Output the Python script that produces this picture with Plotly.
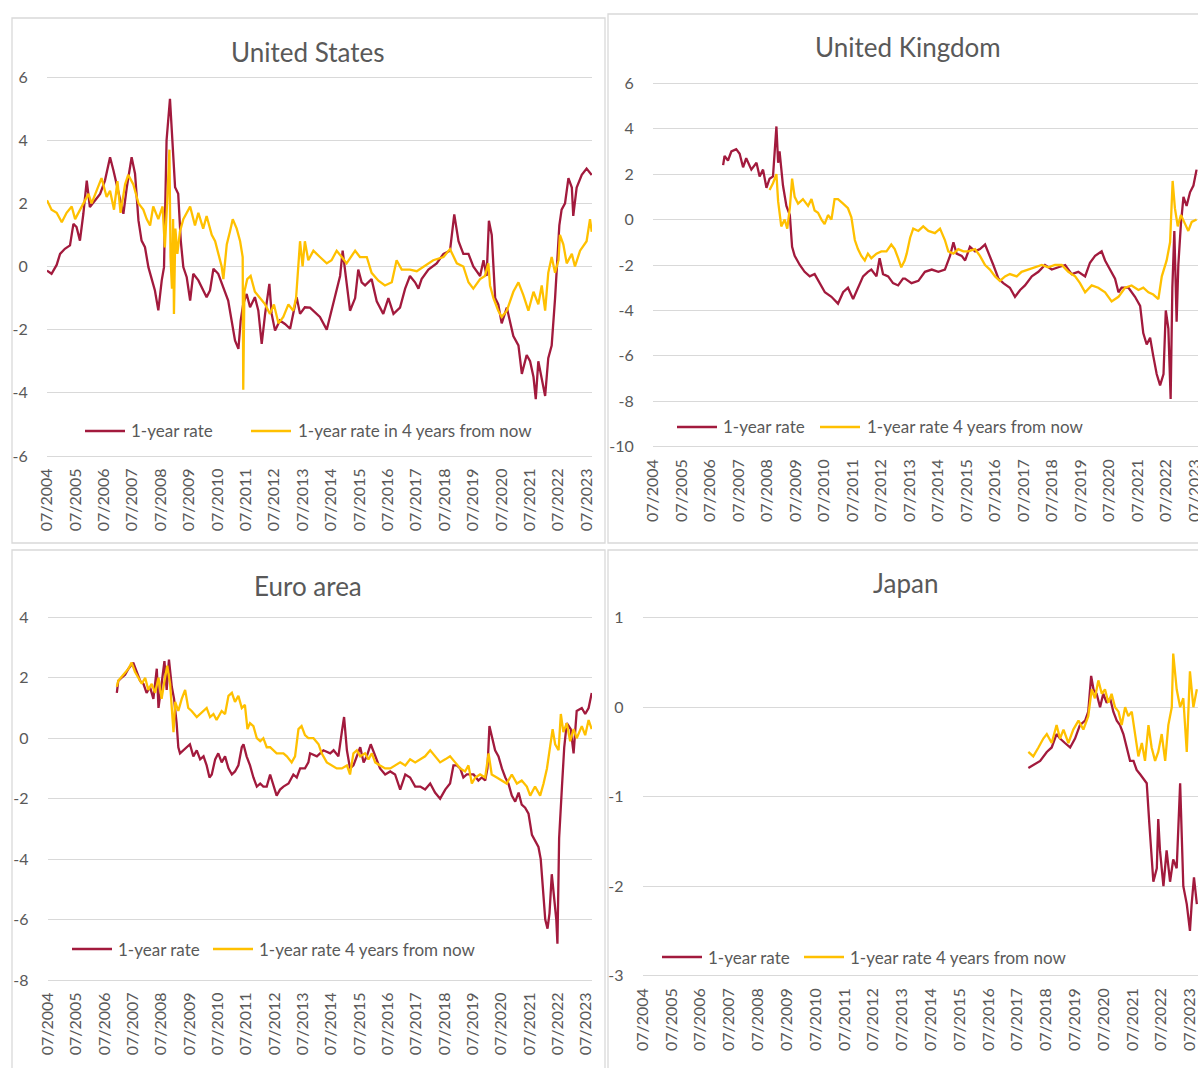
import plotly.graph_objects as go

W, H = 1198, 1068
RED = "#A21A3D"
GOLD = "#FFC000"
GRID = "#D9D9D9"
TXT = "#595959"
FONT = "Lato, 'Open Sans', sans-serif"

# ---------------- tick labels (mid-year positions, decimal years) ----------------
month_labels = ["07/2004", "07/2005", "07/2006", "07/2007", "07/2008", "07/2009", "07/2010",
                "07/2011", "07/2012", "07/2013", "07/2014", "07/2015", "07/2016", "07/2017",
                "07/2018", "07/2019", "07/2020", "07/2021", "07/2022", "07/2023"]
label_years = [2004.5, 2005.5, 2006.5, 2007.5, 2008.5, 2009.5, 2010.5, 2011.5, 2012.5, 2013.5,
               2014.5, 2015.5, 2016.5, 2017.5, 2018.5, 2019.5, 2020.5, 2021.5, 2022.5, 2023.5]

us_yticks = [-6, -4, -2, 0, 2, 4, 6]
uk_yticks = [-10, -8, -6, -4, -2, 0, 2, 4, 6]
ea_yticks = [-8, -6, -4, -2, 0, 2, 4]
jp_yticks = [-3, -2, -1, 0, 1]

series_names = ["1-year rate", "1-year rate in 4 years from now", "1-year rate 4 years from now"]
panel_titles = ["United States", "United Kingdom", "Euro area", "Japan"]

# ---------------- United States ----------------
us_rate_t = [2004.50, 2004.66, 2004.84, 2004.96, 2005.13, 2005.31, 2005.43, 2005.54, 2005.66, 2005.78,
             2005.90, 2006.01, 2006.19, 2006.37, 2006.54, 2006.72, 2006.84, 2006.95, 2007.13, 2007.19,
             2007.31, 2007.48, 2007.60, 2007.72, 2007.83, 2007.95, 2008.07, 2008.19, 2008.30, 2008.42,
             2008.54, 2008.62, 2008.71, 2008.83, 2008.92, 2009.01, 2009.12, 2009.21, 2009.30, 2009.42,
             2009.54, 2009.65, 2009.83, 2010.00, 2010.12, 2010.24, 2010.36, 2010.53, 2010.71, 2010.88,
             2011.00, 2011.12, 2011.24, 2011.32, 2011.41, 2011.53, 2011.65, 2011.82, 2011.94, 2012.06,
             2012.18, 2012.33, 2012.41, 2012.53, 2012.70, 2012.88, 2013.06, 2013.17, 2013.29, 2013.41,
             2013.58, 2013.76,
             2014.11, 2014.35, 2014.58, 2014.70, 2014.82, 2014.91, 2015.05, 2015.17, 2015.35, 2015.46,
             2015.58, 2015.70, 2015.93, 2016.11, 2016.34, 2016.52, 2016.70, 2016.93, 2017.11, 2017.28,
             2017.46, 2017.58, 2017.69, 2017.93, 2018.22, 2018.46, 2018.69, 2018.84, 2018.99, 2019.16,
             2019.34, 2019.51, 2019.75, 2019.87, 2019.98, 2020.06, 2020.16, 2020.28, 2020.39, 2020.51,
             2020.69, 2020.80, 2020.92, 2021.10, 2021.22, 2021.39, 2021.51, 2021.63, 2021.71, 2021.80,
             2021.92, 2022.04, 2022.15, 2022.27, 2022.39, 2022.45, 2022.54, 2022.62, 2022.74, 2022.86,
             2022.98, 2023.03, 2023.15, 2023.33, 2023.50, 2023.68]
us_rate_v = [-0.13, -0.23, 0.05, 0.4, 0.56, 0.67, 1.35, 1.25, 0.82, 1.67,
             2.72, 1.88, 2.09, 2.3, 2.72, 3.46, 3.04, 2.62, 1.88, 1.67,
             2.51, 3.46, 2.94, 1.46, 0.82, 0.61, -0.02, -0.44, -0.76, -1.39,
             -0.44, -0.02, 3.99, 5.31, 3.99, 2.51, 2.3, 0.82, -0.02, -0.34,
             -1.08, -0.23, -0.44, -0.76, -0.97, -0.76, -0.07, -0.23, -0.65, -1.08,
             -1.71, -2.34, -2.61, -1.71, -1.18, -0.87, -1.29, -0.97, -1.39, -2.45,
             -1.5, -0.55, -1.5, -2.03, -1.71, -1.82, -1.97, -1.5, -0.97, -1.5,
             -1.29, -1.3,
             -1.6, -2.0, -1.2, -0.8, -0.3, 0.5, -0.6, -1.4, -1.0, -0.1,
             -0.5, -0.6, -0.4, -1.1, -1.5, -1.0, -1.5, -1.3, -0.7, -0.3,
             -0.5, -0.7, -0.4, -0.1, 0.1, 0.4, 0.5, 1.65, 0.8, 0.4,
             0.4, 0.0, -0.3, 0.2, -0.3, 1.45, 1.0, -1.0, -1.2, -1.8,
             -1.3, -1.7, -2.2, -2.5, -3.4, -2.8, -3.0, -3.5, -4.2, -3.0,
             -3.5, -4.1, -2.9, -2.5, -1.0, 0.0, 1.3, 1.8, 2.0, 2.8,
             2.5, 1.6, 2.5, 2.9, 3.1, 2.9]

us_fwd_t = [2004.50, 2004.66, 2004.84, 2005.02, 2005.19, 2005.37, 2005.49, 2005.66, 2005.78, 2005.96,
            2006.07, 2006.25, 2006.42, 2006.60, 2006.72, 2006.86, 2006.98, 2007.09, 2007.25, 2007.36,
            2007.54, 2007.72, 2007.89, 2008.01, 2008.13, 2008.24, 2008.42, 2008.57, 2008.65, 2008.74,
            2008.81, 2008.85, 2008.90, 2008.94, 2008.97, 2009.02, 2009.09, 2009.18, 2009.30, 2009.54,
            2009.71, 2009.83, 2010.00, 2010.12, 2010.30, 2010.42, 2010.53, 2010.65, 2010.71, 2010.83,
            2010.94, 2011.04, 2011.18, 2011.30, 2011.39, 2011.41, 2011.45, 2011.55, 2011.67, 2011.82,
            2012.00, 2012.18, 2012.35, 2012.49, 2012.65, 2012.82, 2013.00, 2013.17, 2013.27, 2013.35,
            2013.41, 2013.50, 2013.58, 2013.70,
            2013.88, 2014.11, 2014.35, 2014.52, 2014.70, 2014.88, 2015.05, 2015.35, 2015.52, 2015.76,
            2015.93, 2016.17, 2016.40, 2016.64, 2016.81, 2016.99, 2017.28, 2017.52, 2017.75, 2018.10,
            2018.46, 2018.69, 2018.93, 2019.16, 2019.34, 2019.51, 2019.75, 2019.92, 2020.04, 2020.10,
            2020.22, 2020.39, 2020.51, 2020.69, 2020.92, 2021.10, 2021.27, 2021.45, 2021.63, 2021.80,
            2021.92, 2022.04, 2022.15, 2022.27, 2022.39, 2022.51, 2022.56, 2022.68, 2022.80, 2022.98,
            2023.09, 2023.27, 2023.50, 2023.62, 2023.68]
us_fwd_v = [2.1, 1.8, 1.7, 1.4, 1.7, 1.9, 1.5, 1.8, 2.0, 2.3,
            2.0, 2.4, 2.8, 2.2, 2.4, 1.8, 2.7, 1.7, 2.6, 2.9,
            2.6, 2.0, 1.8, 1.5, 1.3, 1.9, 1.5, 1.9, 0.6, 2.2,
            3.7, 0.3, -0.7, 1.5, -1.5, 1.2, 0.4, 1.1, 1.5, 1.9,
            1.3, 1.7, 1.2, 1.6, 1.0, 0.8, 0.4, 0.0, -0.4, 0.7,
            1.1, 1.5, 1.2, 0.8, 0.3, -3.9, -0.8, -0.4, -0.3, -0.8,
            -1.0, -1.2, -1.5, -1.2, -1.8, -1.6, -1.2, -1.4, -1.0, 0.0,
            0.8, 0.0, 0.8, 0.2,
            0.5, 0.3, 0.1, 0.2, 0.5, 0.3, 0.1, 0.5, 0.3, 0.3,
            -0.2, -0.45, -0.6, -0.5, 0.2, -0.1, -0.1, -0.15, 0.0, 0.2,
            0.3, 0.55, 0.1, 0.0, -0.5, -0.7, -0.4, -0.3, 0.1, -0.6,
            -1.0, -1.4, -1.6, -1.4, -0.8, -0.5, -0.9, -1.4, -0.8, -1.2,
            -0.6, -1.4, -0.2, 0.3, -0.2, 0.2, 1.0, 0.7, 0.1, 0.4,
            0.0, 0.5, 0.8, 1.5, 1.1]

# ---------------- United Kingdom ----------------
uk_rate_t = [2006.96, 2007.01, 2007.13, 2007.25, 2007.42, 2007.54, 2007.66, 2007.77, 2007.95, 2008.13,
             2008.24, 2008.36, 2008.48, 2008.59, 2008.71, 2008.83, 2008.89, 2008.94, 2009.06, 2009.18,
             2009.30, 2009.38, 2009.47, 2009.65, 2009.82, 2010.00, 2010.17, 2010.35, 2010.53, 2010.76,
             2010.99, 2011.17, 2011.34, 2011.52, 2011.69, 2011.87, 2012.04, 2012.16, 2012.34, 2012.45,
             2012.57, 2012.75, 2012.92, 2013.10, 2013.27,
             2013.34, 2013.57, 2013.81, 2014.04, 2014.28, 2014.51, 2014.74, 2014.92, 2015.04, 2015.15,
             2015.33, 2015.45, 2015.62, 2015.80, 2015.97, 2016.15, 2016.32, 2016.44, 2016.62, 2016.79,
             2017.02, 2017.20, 2017.38, 2017.55, 2017.79, 2018.02, 2018.25, 2018.49, 2018.72, 2018.96,
             2019.19, 2019.42, 2019.66, 2019.83, 2020.01, 2020.24, 2020.36, 2020.53, 2020.71, 2020.83,
             2020.94, 2021.18, 2021.41, 2021.59, 2021.70, 2021.82, 2021.94, 2022.05, 2022.17, 2022.29,
             2022.41, 2022.49, 2022.58, 2022.66, 2022.72, 2022.79, 2022.87, 2022.93, 2023.02, 2023.11,
             2023.22, 2023.34, 2023.46, 2023.57]
uk_rate_v = [2.4, 2.8, 2.6, 3.0, 3.1, 2.9, 2.3, 2.7, 2.2, 2.5,
             1.9, 2.2, 1.4, 1.8, 1.9, 4.1, 2.5, 3.0, 1.5, 0.6,
             0.2, -1.2, -1.6, -2.0, -2.3, -2.5, -2.4, -2.8, -3.2, -3.4,
             -3.7, -3.2, -3.0, -3.5, -3.0, -2.5, -2.3, -2.2, -2.5, -1.7,
             -2.4, -2.5, -2.8, -2.9, -2.6,
             -2.6, -2.8, -2.7, -2.3, -2.2, -2.3, -2.2, -1.6, -1.0, -1.5,
             -1.6, -1.8, -1.2, -1.4, -1.3, -1.1, -1.6, -2.0, -2.6, -2.8,
             -3.0, -3.4, -3.1, -2.9, -2.5, -2.3, -2.0, -2.2, -2.1, -2.0,
             -2.4, -2.3, -2.5, -1.9, -1.6, -1.4, -1.8, -2.2, -2.6, -3.2,
             -3.0, -3.0, -3.4, -3.8, -5.0, -5.5, -5.2, -6.0, -6.8, -7.3,
             -6.8, -4.0, -4.8, -7.9, -3.0, -0.5, -4.5, -2.0, -0.2, 1.0,
             0.6, 1.2, 1.5, 2.2]

uk_fwd_t = [2008.59, 2008.71, 2008.83, 2008.89, 2009.00, 2009.12, 2009.21, 2009.30, 2009.38, 2009.47,
            2009.59, 2009.76, 2009.94, 2010.06, 2010.17, 2010.29, 2010.41, 2010.52, 2010.64, 2010.76,
            2010.87, 2010.99, 2011.17, 2011.34, 2011.46, 2011.58, 2011.69, 2011.81, 2011.93, 2012.04,
            2012.16, 2012.34, 2012.51, 2012.69, 2012.86, 2012.98, 2013.10, 2013.21, 2013.33,
            2013.40, 2013.52, 2013.63, 2013.81, 2013.98, 2014.16, 2014.39, 2014.57, 2014.74, 2014.86,
            2015.04, 2015.21, 2015.39, 2015.56, 2015.80, 2015.97, 2016.15, 2016.32, 2016.50, 2016.67,
            2016.85, 2017.02, 2017.26, 2017.43, 2017.67, 2017.90, 2018.14, 2018.37, 2018.60, 2018.84,
            2019.07, 2019.31, 2019.48, 2019.66, 2019.89, 2020.12, 2020.36, 2020.59, 2020.83, 2021.06,
            2021.29, 2021.53, 2021.70, 2021.88, 2022.05, 2022.23, 2022.35, 2022.52, 2022.64, 2022.73,
            2022.81, 2022.91, 2023.02, 2023.17, 2023.28, 2023.40, 2023.57]
uk_fwd_v = [1.3, 1.6, 2.0, 0.8, -0.3, 0.0, -0.4, 0.5, 1.8, 1.0,
            0.7, 0.9, 0.6, 0.9, 0.4, 0.3, 0.0, -0.2, 0.2, 0.0,
            0.9, 0.9, 0.7, 0.5, 0.1, -0.9, -1.3, -1.6, -1.8, -1.5,
            -1.7, -1.5, -1.4, -1.4, -1.1, -1.3, -1.7, -2.1, -1.8,
            -1.5, -0.8, -0.4, -0.5, -0.3, -0.5, -0.6, -0.4, -0.9, -1.4,
            -1.5, -1.3, -1.4, -1.4, -1.3, -1.6, -2.0, -2.2, -2.5, -2.7,
            -2.5, -2.4, -2.5, -2.3, -2.2, -2.1, -2.0, -2.1, -2.0, -2.0,
            -2.3, -2.5, -2.8, -3.2, -2.9, -3.0, -3.2, -3.6, -3.4, -3.0,
            -2.9, -3.1, -3.0, -3.2, -3.3, -3.5, -2.5, -1.8, -1.0, 1.7,
            0.5, -0.3, 0.2, -0.2, -0.5, -0.1, 0.0]

# ---------------- Euro area ----------------
ea_rate_t = [2006.94, 2006.99, 2007.11, 2007.23, 2007.35, 2007.52, 2007.64, 2007.76, 2007.88, 2007.99,
             2008.11, 2008.23, 2008.35, 2008.41, 2008.52, 2008.62, 2008.70, 2008.78, 2008.88, 2008.96,
             2009.05, 2009.11, 2009.17, 2009.29, 2009.41, 2009.52, 2009.64, 2009.76, 2009.88, 2010.00,
             2010.11, 2010.21, 2010.29, 2010.41, 2010.52, 2010.64, 2010.76, 2010.88, 2011.00, 2011.11,
             2011.23, 2011.35, 2011.41, 2011.52, 2011.64, 2011.76, 2011.88, 2012.00, 2012.11, 2012.23,
             2012.35, 2012.46, 2012.58, 2012.70, 2012.82, 2013.00, 2013.17, 2013.29, 2013.41, 2013.58,
             2013.70,
             2013.76, 2014.00, 2014.23, 2014.47, 2014.59, 2014.76, 2014.88, 2014.96, 2015.06, 2015.17,
             2015.29, 2015.41, 2015.53, 2015.65, 2015.76, 2015.90, 2016.06, 2016.23, 2016.41, 2016.59,
             2016.76, 2016.94, 2017.12, 2017.29, 2017.47, 2017.65, 2017.82, 2018.00, 2018.17, 2018.35,
             2018.53, 2018.70, 2018.82, 2018.94, 2019.06, 2019.17, 2019.29, 2019.41, 2019.53, 2019.70,
             2019.82, 2019.94, 2020.02, 2020.09, 2020.17, 2020.29, 2020.41, 2020.53, 2020.65, 2020.76,
             2020.88, 2021.00, 2021.12, 2021.23, 2021.35, 2021.47, 2021.59, 2021.70, 2021.82, 2021.90,
             2021.97, 2022.06, 2022.14, 2022.21, 2022.29, 2022.37, 2022.45, 2022.49, 2022.55, 2022.65,
             2022.73, 2022.82, 2022.96, 2023.06, 2023.17, 2023.35, 2023.47, 2023.59, 2023.70]
ea_rate_v = [1.5, 1.9, 2.0, 2.1, 2.3, 2.5, 2.2, 1.9, 1.8, 1.5,
             1.7, 1.3, 2.3, 1.0, 1.8, 2.55, 1.6, 2.6, 1.7, 1.3,
             0.5, -0.3, -0.5, -0.4, -0.3, -0.2, -0.6, -0.4, -0.7, -0.6,
             -0.9, -1.3, -1.2, -0.7, -0.5, -0.8, -0.6, -1.0, -1.2, -1.1,
             -0.9, -0.3, -0.2, -0.6, -0.9, -1.3, -1.6, -1.5, -1.6, -1.6,
             -1.2, -1.5, -1.9, -1.7, -1.6, -1.5, -1.2, -1.3, -1.0, -1.0,
             -0.8,
             -0.5, -0.6, -0.4, -0.5, -0.4, -0.6, 0.2, 0.7, -0.4, -1.0,
             -0.9, -0.6, -0.3, -0.8, -0.6, -0.2, -0.6, -1.0, -1.2, -1.1,
             -1.2, -1.7, -1.2, -1.3, -1.6, -1.6, -1.7, -1.5, -1.8, -2.0,
             -1.7, -1.5, -0.9, -0.9, -1.0, -1.3, -1.2, -1.2, -1.2, -1.4,
             -1.3, -1.4, -1.0, 0.4, 0.1, -0.4, -0.6, -1.0, -1.3, -1.5,
             -1.9, -2.1, -1.8, -2.2, -2.3, -2.5, -3.2, -3.4, -3.6, -4.0,
             -5.0, -6.0, -6.3, -5.8, -4.5, -5.2, -6.0, -6.8, -3.3, -1.6,
             -0.3, 0.5, 0.3, -0.5, 0.9, 1.0, 0.8, 1.0, 1.5]

ea_fwd_t = [2006.94, 2006.99, 2007.17, 2007.35, 2007.46, 2007.58, 2007.70, 2007.82, 2007.94, 2008.05,
            2008.17, 2008.29, 2008.41, 2008.52, 2008.64, 2008.72, 2008.82, 2008.90, 2008.94, 2009.00,
            2009.11, 2009.23, 2009.35, 2009.46, 2009.58, 2009.76, 2009.88, 2010.00, 2010.11, 2010.23,
            2010.35, 2010.46, 2010.64, 2010.76, 2010.88, 2011.00, 2011.11, 2011.23, 2011.35, 2011.46,
            2011.55, 2011.64, 2011.76, 2011.88, 2012.00, 2012.11, 2012.23, 2012.35, 2012.46, 2012.58,
            2012.70, 2012.82, 2012.94, 2013.11, 2013.23, 2013.35, 2013.46, 2013.58, 2013.70,
            2013.88, 2014.06, 2014.17, 2014.35, 2014.53, 2014.70, 2014.88, 2015.06, 2015.17, 2015.29,
            2015.41, 2015.53, 2015.70, 2015.82, 2015.94, 2016.06, 2016.23, 2016.41, 2016.59, 2016.76,
            2016.94, 2017.12, 2017.29, 2017.47, 2017.65, 2017.82, 2018.00, 2018.17, 2018.35, 2018.53,
            2018.70, 2018.88, 2019.06, 2019.23, 2019.35, 2019.47, 2019.59, 2019.76, 2019.94, 2020.06,
            2020.17, 2020.35, 2020.53, 2020.70, 2020.88, 2021.06, 2021.23, 2021.41, 2021.53, 2021.70,
            2021.88, 2022.00, 2022.12, 2022.23, 2022.32, 2022.41, 2022.53, 2022.61, 2022.70, 2022.82,
            2022.94, 2023.06, 2023.17, 2023.35, 2023.47, 2023.59, 2023.70]
ea_fwd_v = [1.7, 1.9, 2.1, 2.3, 2.5, 2.2, 2.0, 1.8, 2.0, 1.6,
            1.8, 1.5, 2.0, 1.3, 2.0, 2.4, 1.8, 0.6, 0.2, 1.2,
            0.9, 1.3, 1.6, 1.0, 0.9, 0.7, 0.8, 0.9, 1.0, 0.7,
            0.8, 0.6, 0.9, 0.8, 1.4, 1.5, 1.2, 1.4, 1.0, 1.1,
            0.3, 0.5, 0.4, 0.0, -0.1, 0.0, -0.3, -0.3, -0.4, -0.5,
            -0.5, -0.5, -0.6, -0.8, -0.6, 0.3, 0.4, 0.1, 0.0,
            0.0, -0.2, -0.5, -0.8, -0.9, -1.0, -1.0, -0.9, -1.2, -0.5,
            -0.4, -0.6, -0.5, -0.7, -0.5, -0.8, -0.9, -1.0, -1.0, -0.9,
            -0.8, -0.9, -0.7, -0.8, -0.7, -0.6, -0.4, -0.6, -0.8, -0.7,
            -0.6, -0.8, -1.0, -1.1, -0.9, -1.5, -1.3, -1.2, -1.3, -0.5,
            -1.2, -1.3, -1.4, -1.5, -1.2, -1.5, -1.4, -1.6, -1.9, -1.6,
            -1.9, -1.5, -1.0, -0.2, 0.3, -0.2, -0.4, 0.8, 0.2, 0.5,
            -0.1, 0.3, 0.0, 0.4, 0.1, 0.6, 0.3]

# ---------------- Japan ----------------
jp_rate_t = [2017.89, 2018.06, 2018.30, 2018.53, 2018.70, 2018.87, 2018.99, 2019.16, 2019.34, 2019.51,
             2019.68, 2019.86, 2019.97, 2020.07, 2020.15, 2020.26, 2020.38, 2020.49, 2020.61, 2020.73,
             2020.84, 2020.96, 2021.07, 2021.19, 2021.30, 2021.42, 2021.54, 2021.65, 2021.77, 2021.88,
             2022.00, 2022.09, 2022.17, 2022.23, 2022.35, 2022.40, 2022.46, 2022.58, 2022.69, 2022.81,
             2022.92, 2023.04, 2023.16, 2023.21, 2023.27, 2023.39, 2023.50, 2023.56, 2023.64, 2023.74]
jp_rate_v = [-0.68, -0.65, -0.6, -0.5, -0.45, -0.3, -0.35, -0.4, -0.45, -0.35,
             -0.2, -0.15, -0.05, 0.35, 0.2, 0.15, 0.0, 0.15, 0.05, 0.1,
             -0.05, -0.15, -0.2, -0.3, -0.45, -0.6, -0.6, -0.7, -0.75, -0.8,
             -0.85, -1.3, -1.7, -1.95, -1.8, -1.25, -1.6, -2.0, -1.6, -1.95,
             -1.7, -1.8, -0.85, -1.5, -2.0, -2.2, -2.5, -2.2, -1.9, -2.2]

jp_fwd_t = [2017.89, 2018.06, 2018.24, 2018.41, 2018.53, 2018.70, 2018.87, 2018.99, 2019.11, 2019.28,
            2019.45, 2019.63, 2019.80, 2019.97, 2020.09, 2020.20, 2020.32, 2020.44, 2020.55, 2020.67,
            2020.78, 2020.90, 2021.02, 2021.13, 2021.25, 2021.36, 2021.48, 2021.59, 2021.71, 2021.83,
            2021.94, 2022.06, 2022.17, 2022.29, 2022.40, 2022.52, 2022.64, 2022.75, 2022.87, 2022.92,
            2023.04, 2023.16, 2023.27, 2023.39, 2023.50, 2023.62, 2023.74]
jp_fwd_v = [-0.5, -0.55, -0.45, -0.35, -0.3, -0.4, -0.2, -0.35, -0.25, -0.4,
            -0.25, -0.15, -0.25, -0.1, 0.2, 0.1, 0.3, 0.15, 0.2, 0.05,
            0.15, 0.0, -0.05, -0.2, 0.0, -0.1, -0.05, -0.3, -0.55, -0.4,
            -0.6, -0.2, -0.45, -0.6, -0.5, -0.3, -0.6, -0.2, 0.0, 0.6,
            0.2, 0.0, 0.1, -0.5, 0.4, 0.0, 0.2]

# ---------------- layout geometry (pixels) ----------------
panels = [
    dict(ax="", title=panel_titles[0], px=(47, 592), py=(77, 456), yt=us_yticks, xend=2023.69,
         title_xy=(308, 52), box=(12, 18, 605, 543),
         rate=(us_rate_t, us_rate_v), fwd=(us_fwd_t, us_fwd_v), fwd_name=series_names[1],
         leg=((85, 125, 129), (251, 291, 296), 431)),
    dict(ax="2", title=panel_titles[1], px=(653, 1198), py=(83.3, 446.7), yt=uk_yticks, xend=2023.62,
         title_xy=(908, 47), box=(608, 14, 1230, 543),
         rate=(uk_rate_t, uk_rate_v), fwd=(uk_fwd_t, uk_fwd_v), fwd_name=series_names[2],
         leg=((677, 717, 721), (820, 860, 865), 427)),
    dict(ax="3", title=panel_titles[2], px=(47.7, 592), py=(617.3, 980), yt=ea_yticks, xend=2023.71,
         title_xy=(308, 586), box=(12, 550, 605, 1080),
         rate=(ea_rate_t, ea_rate_v), fwd=(ea_fwd_t, ea_fwd_v), fwd_name=series_names[2],
         leg=((72, 112, 116), (213, 253, 257), 949)),
    dict(ax="4", title=panel_titles[3], px=(642.7, 1198), py=(617.7, 975.7), yt=jp_yticks, xend=2023.78,
         title_xy=(905, 583), box=(608, 550, 1230, 1080),
         rate=(jp_rate_t, jp_rate_v), fwd=(jp_fwd_t, jp_fwd_v), fwd_name=series_names[2],
         leg=((662, 702, 706), (804, 844, 848), 957)),
]

fig = go.Figure()
layout = dict(width=W, height=H,
              margin=dict(l=0, r=0, t=0, b=0, pad=0, autoexpand=False),
              autosize=False,
              paper_bgcolor="white", plot_bgcolor="white", showlegend=False,
              font=dict(family=FONT, color=TXT), shapes=[], annotations=[])

PAD = 2  # px so the edge gridlines stay inside the plot area
for p in panels:
    xa, ya = "x" + p["ax"], "y" + p["ax"]
    x0, x1 = p["px"]
    ytop, ybot = p["py"]
    ymin, ymax = min(p["yt"]), max(p["yt"])
    upp = (ymax - ymin) / (ybot - ytop)
    fig.add_trace(go.Scatter(x=p["rate"][0], y=p["rate"][1], mode="lines", name=series_names[0],
                             line=dict(color=RED, width=2.3), xaxis=xa, yaxis=ya, hoverinfo="skip"))
    fig.add_trace(go.Scatter(x=p["fwd"][0], y=p["fwd"][1], mode="lines", name=p["fwd_name"],
                             line=dict(color=GOLD, width=2.3), xaxis=xa, yaxis=ya, hoverinfo="skip"))
    layout["xaxis" + p["ax"]] = dict(
        domain=[x0 / W, min(1.0, x1 / W)], range=[2004.5, p["xend"]], anchor=ya,
        tickvals=label_years, ticktext=month_labels, tickangle=-90,
        showgrid=False, zeroline=False, showline=False, automargin=False,
        ticklabeloverflow="allow",
        ticks="outside", ticklen=3, tickcolor="rgba(0,0,0,0)",
        tickfont=dict(family=FONT, size=16, color=TXT), fixedrange=True)
    layout["yaxis" + p["ax"]] = dict(
        domain=[1 - (ybot + PAD) / H, 1 - (ytop - PAD) / H],
        range=[ymin - PAD * upp, ymax + PAD * upp], anchor=xa,
        tickvals=p["yt"], ticktext=[str(v) for v in p["yt"]],
        showgrid=True, gridcolor=GRID, gridwidth=1.2, zeroline=False, showline=False,
        automargin=False,
        ticks="outside", ticklen=15, tickcolor="rgba(0,0,0,0)",
        tickfont=dict(family=FONT, size=16, color=TXT), fixedrange=True)
    # panel border
    bx0, by0, bx1, by1 = p["box"]
    layout["shapes"].append(dict(type="rect", xref="paper", yref="paper",
                                 x0=bx0 / W, x1=min(bx1, W + 2) / W,
                                 y0=1 - by0 / H, y1=1 - min(by1, H + 2) / H,
                                 line=dict(color=GRID, width=1.3), fillcolor="rgba(0,0,0,0)",
                                 layer="below"))
    # title
    tx, ty = p["title_xy"]
    layout["annotations"].append(dict(text=p["title"], x=tx / W, y=1 - ty / H, xref="paper",
                                      yref="paper", xanchor="center", yanchor="middle",
                                      showarrow=False, font=dict(family=FONT, size=26, color=TXT)))
    # legend (line sample + label)
    (r0, r1, rt), (g0, g1, gt), ly = p["leg"]
    for (a, b, t, col, name) in ((r0, r1, rt, RED, series_names[0]),
                                 (g0, g1, gt, GOLD, p["fwd_name"])):
        layout["shapes"].append(dict(type="line", xref="paper", yref="paper",
                                     x0=a / W, x1=b / W, y0=1 - ly / H, y1=1 - ly / H,
                                     line=dict(color=col, width=2.3)))
        layout["annotations"].append(dict(text=name, x=t / W, y=1 - ly / H, xref="paper",
                                          yref="paper", xanchor="left", yanchor="middle",
                                          showarrow=False,
                                          font=dict(family=FONT, size=17, color=TXT)))

fig.update_layout(**layout)
fig.write_html("out.html", config={"displayModeBar": False, "responsive": False},
               post_script="document.body.style.margin='0';document.body.style.overflow='hidden';")
